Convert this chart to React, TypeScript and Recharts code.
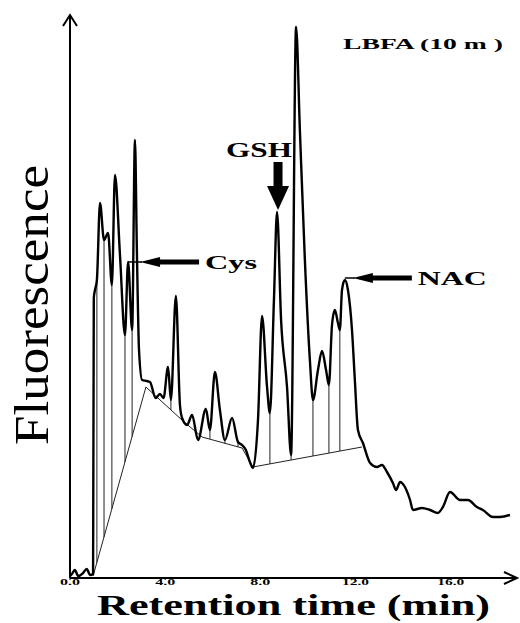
import React from "react";
import { LineChart, Line, XAxis, YAxis, ReferenceLine, ReferenceDot } from "recharts";

// retention time (min) and fluorescence (arbitrary units)
const traceTime = [
  0, 0.08, 0.2, 0.35, 0.55, 0.7, 0.85, 0.97, 1.0, 1.05, 1.13, 1.26, 1.43, 1.6, 1.76, 1.89,
  2.1, 2.31, 2.44, 2.61, 2.73, 2.81, 2.9, 3.03, 3.22, 3.36, 3.6, 3.78, 3.93, 4.12, 4.24,
  4.45, 4.62, 4.71, 4.92, 5.13, 5.38, 5.71, 5.88, 6.09, 6.3, 6.51, 6.81, 7.06, 7.23, 7.39,
  7.56, 7.69, 7.9, 8.07, 8.28, 8.4, 8.57, 8.7, 8.87, 9.12, 9.29, 9.5, 9.66, 9.87, 10.08,
  10.21, 10.42, 10.59, 10.76, 10.88, 11.01, 11.13, 11.26, 11.34, 11.43, 11.55, 11.68,
  11.85, 11.97, 12.1, 12.31, 12.61, 12.9, 13.11, 13.32, 13.57, 13.7, 13.87, 13.99, 14.29,
  14.41, 14.79, 15.13, 15.46, 15.67, 15.97, 16.39, 16.72, 17.1, 17.35, 17.77, 18.07, 18.49,
];
const traceSignal = [
  0.4, 0.8, 1.6, 0.4, 1.0, 1.8, 0.6, 0.8, 56, 57.6, 59.6, 75, 67.6, 69, 58.6, 80.6,
  64.6, 48.6, 63.2, 49.6, 87.6, 65.6, 45.6, 39.6, 39.4, 39.2, 36.0, 36.8, 36.0, 42.2, 35.6,
  56.4, 34.6, 32, 30.6, 32.6, 27.6, 33.8, 29.6, 41.2, 33.6, 27.6, 32, 27.2, 26.6, 25.6,
  23.2, 22, 31.6, 52.4, 38.2, 33, 55.6, 73.2, 51.6, 38.2, 24.6, 110.2, 89.6, 63.6, 43.6,
  35.6, 41.6, 45.4, 41.6, 38.6, 50.6, 53.6, 51, 49.6, 57.6, 59.6, 57.6,
  49.6, 39.6, 29.6, 27, 23, 22.2, 22.6, 21.2, 19, 17.6, 19.2, 18.8, 15.6,
  13.6, 14, 13.6, 13, 14.2, 17.2, 15.6, 15.6, 14.2, 13.6, 12.2, 12.2, 12.6,
];

// integration baselines
const baseATime = [0.97, 3.19];
const baseAValue = [0.4, 38.2];
const baseBTime = [3.19, 4.75, 5.55, 7.23, 7.69];
const baseBValue = [38.2, 31.4, 28.2, 26, 22.2];
const baseCTime = [7.69, 12.27];
const baseCValue = [22.2, 26.2];

// drop lines from valleys to the baseline
const dropTime = [1.13, 1.43, 1.76, 2.31, 2.61, 4.24, 5.88, 6.51, 7.06, 8.4, 9.29, 10.21, 10.88, 11.34];
const dropTop = [59.6, 67.6, 58.6, 48.6, 49.6, 35.6, 29.6, 27.6, 27.2, 33, 24.6, 35.6, 38.6, 49.6];
const dropBottom = [3.1, 8.2, 13.9, 23.2, 28.3, 33.6, 27.8, 26.9, 26.2, 22.8, 23.6, 24.4, 25.0, 25.4];

// labelled peaks
const peakName = ["Cys", "GSH", "NAC"];
const peakTime = [2.44, 8.7, 11.55];
const peakSignal = [63.2, 73.2, 59.6];

const xTicks = [0, 4, 8, 12, 16];
const X_MAX = 18.7;
const Y_MAX = 112.6;

const trace = traceTime.map((t, i) => ({ t, v: traceSignal[i] }));
const toRows = (ts: number[], vs: number[]) => ts.map((t, i) => ({ t, v: vs[i] }));
const baseA = toRows(baseATime, baseAValue);
const baseB = toRows(baseBTime, baseBValue);
const baseC = toRows(baseCTime, baseCValue);

const SERIF = "'Liberation Serif', 'Times New Roman', serif";

const TimeTick = (props: any) => {
  const { x, y, payload } = props;
  const label = Number(payload.value).toFixed(1);
  return (
    <text
      x={x}
      y={y + 3}
      textAnchor="middle"
      fontFamily={SERIF}
      fontWeight="bold"
      fontSize={8}
      fill="#000"
      textLength={label.length > 3 ? 27 : 20}
      lengthAdjust="spacingAndGlyphs"
    >
      {label}
    </text>
  );
};

const bold = { fontFamily: SERIF, fontWeight: "bold" as const, fill: "#000" };

// left-pointing arrow + label sitting to the right of a peak
const SideMark = ({ cx, cy, name, lead, width }: any) => (
  <g>
    <line x1={cx} y1={cy} x2={cx + lead + 2} y2={cy} stroke="#000" strokeWidth={1.5} />
    <polygon points={`${cx + lead},${cy} ${cx + lead + 20},${cy - 5} ${cx + lead + 20},${cy + 5}`} fill="#000" />
    <rect x={cx + lead + 19} y={cy - 2.5} width={40} height={5} fill="#000" />
    <text x={cx + lead + 65} y={cy + 7} fontSize={19} textLength={width} lengthAdjust="spacingAndGlyphs" {...bold}>
      {name}
    </text>
  </g>
);

const DownMark = ({ cx, cy, name }: any) => (
  <g>
    <rect x={cx - 4.5} y={cy - 50} width={9} height={25} fill="#000" />
    <polygon points={`${cx - 11},${cy - 26} ${cx + 11},${cy - 26} ${cx},${cy - 2}`} fill="#000" />
    <text x={cx - 52} y={cy - 55} fontSize={20} textLength={66} lengthAdjust="spacingAndGlyphs" {...bold}>
      {name}
    </text>
  </g>
);

export default function App() {
  return (
    <div style={{ position: "absolute", left: 0, top: 0, width: 520, height: 623, background: "#fff" }}>
      <LineChart width={520} height={623} data={trace} margin={{ top: 15, right: 5, left: 68, bottom: 25 }}>
        <XAxis
          dataKey="t"
          type="number"
          domain={[0, X_MAX]}
          ticks={xTicks}
          height={20}
          tickSize={2}
          tickLine={{ stroke: "#000" }}
          axisLine={{ stroke: "#000", strokeWidth: 2 }}
          tick={<TimeTick />}
          allowDataOverflow
        />
        <YAxis
          type="number"
          domain={[0, Y_MAX]}
          width={2}
          tick={false}
          tickLine={false}
          axisLine={{ stroke: "#000", strokeWidth: 2 }}
          allowDataOverflow
        />
        {dropTime.map((t, i) => (
          <ReferenceLine
            key={"d" + i}
            segment={[{ x: t, y: dropTop[i] }, { x: t, y: dropBottom[i] }]}
            stroke="#222"
            strokeWidth={1}
          />
        ))}
        <Line data={baseA} dataKey="v" type="linear" stroke="#222" strokeWidth={1} dot={false} isAnimationActive={false} />
        <Line data={baseB} dataKey="v" type="linear" stroke="#222" strokeWidth={1} dot={false} isAnimationActive={false} />
        <Line data={baseC} dataKey="v" type="linear" stroke="#222" strokeWidth={1} dot={false} isAnimationActive={false} />
        <Line dataKey="v" type="monotone" stroke="#000" strokeWidth={2.4} dot={false} isAnimationActive={false} />
        <ReferenceDot
          x={peakTime[0]}
          y={peakSignal[0]}
          r={1}
          ifOverflow="visible"
          shape={(p: any) => <SideMark cx={p.cx} cy={p.cy} name={peakName[0]} lead={12} width={52} />}
        />
        <ReferenceDot
          x={peakTime[1]}
          y={peakSignal[1]}
          r={1}
          ifOverflow="visible"
          shape={(p: any) => <DownMark cx={p.cx + 1} cy={p.cy} name={peakName[1]} />}
        />
        <ReferenceDot
          x={peakTime[2]}
          y={peakSignal[2]}
          r={1}
          ifOverflow="visible"
          shape={(p: any) => <SideMark cx={p.cx} cy={p.cy - 2} name={peakName[2]} lead={8} width={69} />}
        />
        <ReferenceDot
          x={X_MAX}
          y={0}
          r={1}
          ifOverflow="visible"
          shape={(p: any) => (
            <polyline
              points={`${p.cx - 11},${p.cy - 6} ${p.cx + 2},${p.cy} ${p.cx - 11},${p.cy + 6}`}
              fill="none"
              stroke="#000"
              strokeWidth={2}
            />
          )}
        />
        <ReferenceDot
          x={0}
          y={Y_MAX}
          r={1}
          ifOverflow="visible"
          shape={(p: any) => (
            <polyline
              points={`${p.cx - 7},${p.cy + 11} ${p.cx},${p.cy} ${p.cx + 7},${p.cy + 11}`}
              fill="none"
              stroke="#000"
              strokeWidth={2}
            />
          )}
        />
      </LineChart>
      <svg width={520} height={623} style={{ position: "absolute", left: 0, top: 0, pointerEvents: "none" }}>
        <text x={343} y={49} fontSize={15} textLength={160} lengthAdjust="spacingAndGlyphs" {...bold}>
          LBFA (10 m )
        </text>
        <text
          transform="translate(48,305) rotate(-90)"
          textAnchor="middle"
          fontFamily={SERIF}
          fontSize={48}
          fill="#000"
          textLength={280}
          lengthAdjust="spacingAndGlyphs"
        >
          Fluorescence
        </text>
        <text x={97} y={615} fontSize={29} textLength={393} lengthAdjust="spacingAndGlyphs" {...bold}>
          Retention time (min)
        </text>
      </svg>
    </div>
  );
}
